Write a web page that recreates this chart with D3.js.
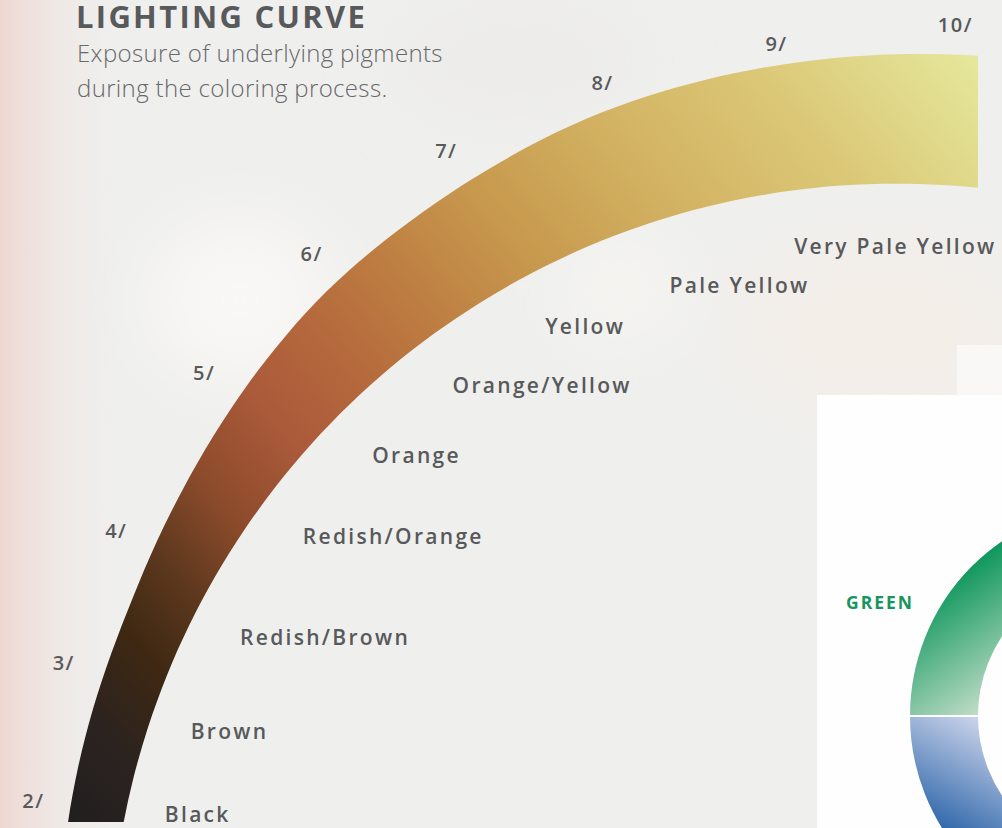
<!DOCTYPE html>
<html>
<head>
<meta charset="utf-8">
<script src="https://cdn.jsdelivr.net/npm/d3@7"></script>
<style>
  body { margin: 0; background: #efefed; overflow: hidden; }
  text { font-family: "Open Sans", sans-serif; }
</style>
</head>
<body>
<div id="container"></div>
<script>
// Chart values.
const levels = [2, 3, 4, 5, 6, 7, 8, 9, 10];
const levelLabels = ["2/", "3/", "4/", "5/", "6/", "7/", "8/", "9/", "10/"];
const pigments = ["Black", "Brown", "Redish/Brown", "Redish/Orange", "Orange",
  "Orange/Yellow", "Yellow", "Pale Yellow", "Very Pale Yellow"];
const wheelSegments = ["Green", "Blue"];

// Declare the chart dimensions.
const width = 1002;
const height = 828;
const deg = Math.PI / 180;

// Centre of the curve (below the screen, under the right end).
const cx = 896;
const cy = 970;
const innerRadius = 787;

// Level -> angle along the curve (0 = straight up, clockwise).
const tickAngle = d3.scaleLinear().domain([2, 4, 5, 6, 8, 10]).range([-78.9, -60.6, -49.2, -39.2, -18.3, 3.6]);
const tickRadius = d3.scaleLinear().domain([2, 4, 5, 7, 9, 10]).range([879, 895, 914, 935, 934, 947]);
const labelAngle = d3.scaleLinear().domain([2, 3, 4, 5, 7, 8, 10]).range([-78.55, -71.9, -63.65, -54.3, -37.55, -28.9, -8.1]);
const labelRadius = d3.scaleLinear().domain([2, 3, 4, 8, 9, 10]).range([746, 742, 732, 726, 714, 723]);

// The band gets thicker toward the light end.
const outerRadius = d3.scaleLinear()
  .domain([-84, -65, -55, -47, -40, -30, -19, -8, 8])
  .range([840, 848, 862, 876, 887, 896, 908, 913, 920]);

const polar = (a, r) => [cx + r * Math.sin(a * deg), cy - r * Math.cos(a * deg)];

const svg = d3.create("svg").attr("width", width).attr("height", height)
  .style("display", "block");
const defs = svg.append("defs");

// Background: blurry photo-like wash.
const bgPink = defs.append("linearGradient").attr("id", "bgPink");
bgPink.append("stop").attr("offset", 0).attr("stop-color", "#eed7d1");
bgPink.append("stop").attr("offset", 0.05).attr("stop-color", "#efdeda").attr("stop-opacity", 0.5);
bgPink.append("stop").attr("offset", 0.13).attr("stop-color", "#efefed").attr("stop-opacity", 0);
defs.append("filter").attr("id", "blur")
  .attr("x", "-50%").attr("y", "-50%").attr("width", "200%").attr("height", "200%")
  .append("feGaussianBlur").attr("stdDeviation", 35);

svg.append("rect").attr("width", width).attr("height", height).attr("fill", "#efefed");
const bokeh = svg.append("g").attr("filter", "url(#blur)");
bokeh.append("ellipse").attr("cx", 240).attr("cy", 300).attr("rx", 90).attr("ry", 80).attr("fill", "#f9f8f5");
bokeh.append("ellipse").attr("cx", 620).attr("cy", 290).attr("rx", 60).attr("ry", 50).attr("fill", "#f6f5f2");
bokeh.append("ellipse").attr("cx", 880).attr("cy", 330).attr("rx", 140).attr("ry", 80).attr("fill", "#f4eee8");
bokeh.append("ellipse").attr("cx", 520).attr("cy", 60).attr("rx", 120).attr("ry", 50).attr("fill", "#ecebe9");
svg.append("rect").attr("width", width).attr("height", height).attr("fill", "url(#bgPink)");

// Band gradient, running from the dark end to the light end.
const bandGrad = defs.append("linearGradient").attr("id", "bandGrad")
  .attr("gradientUnits", "userSpaceOnUse")
  .attr("x1", 69 - cx).attr("y1", 822 - cy)
  .attr("x2", 978 - cx).attr("y2", 55 - cy);
[[0, "#221e1f"], [0.07, "#2b2320"], [0.14, "#3e2812"], [0.2, "#5b371d"],
 [0.27, "#8b4b2b"], [0.35, "#ab5a3a"], [0.42, "#b4673c"], [0.5, "#bd7c41"],
 [0.6, "#c7984d"], [0.72, "#d2b262"], [0.85, "#dbc877"], [1, "#e5e89c"]]
  .forEach(([o, c]) => bandGrad.append("stop").attr("offset", o).attr("stop-color", c));

defs.append("clipPath").attr("id", "bandClip")
  .append("rect").attr("x", 0).attr("y", 0).attr("width", 978).attr("height", 822);

const band = d3.areaRadial()
  .angle(a => a * deg)
  .innerRadius(innerRadius)
  .outerRadius(a => outerRadius(a))
  .curve(d3.curveBasis);

svg.append("g").attr("clip-path", "url(#bandClip)")
  .append("g").attr("transform", `translate(${cx},${cy})`)
  .append("path")
  .attr("d", band(d3.range(-84, 10, 4)))
  .attr("fill", "url(#bandGrad)");

// Title.
svg.append("text").attr("x", 76).attr("y", 28)
  .attr("font-size", 31).attr("font-weight", 700).attr("letter-spacing", 2.3)
  .attr("fill", "#58595b").text("LIGHTING CURVE");
svg.append("text").attr("x", 77).attr("y", 62)
  .attr("font-size", 24).attr("font-weight", 300).attr("letter-spacing", 0.35)
  .attr("fill", "#68696b")
  .text("Exposure of underlying pigments");
svg.append("text").attr("x", 77).attr("y", 97)
  .attr("font-size", 24).attr("font-weight", 300).attr("letter-spacing", 0.35)
  .attr("fill", "#68696b")
  .text("during the coloring process.");

// Level ticks outside the band.
svg.append("g").selectAll("text").data(levels).join("text")
  .attr("x", d => polar(tickAngle(d), tickRadius(d))[0])
  .attr("y", d => polar(tickAngle(d), tickRadius(d))[1])
  .attr("text-anchor", "middle").attr("dominant-baseline", "central")
  .attr("font-size", 20).attr("font-weight", 600).attr("letter-spacing", 1.5)
  .attr("fill", "#58595b")
  .text((d, i) => levelLabels[i]);

// Pigment names inside the band.
svg.append("g").selectAll("text").data(levels).join("text")
  .attr("x", d => polar(labelAngle(d), labelRadius(d))[0])
  .attr("y", d => polar(labelAngle(d), labelRadius(d))[1])
  .attr("font-size", 21).attr("font-weight", 600).attr("letter-spacing", 2.3)
  .attr("fill", "#58595b")
  .text((d, i) => pigments[i]);

// Color wheel panel (bottom right).
svg.append("rect").attr("x", 957).attr("y", 345).attr("width", 45).attr("height", 60).attr("fill", "#f9f8f6");
svg.append("rect").attr("x", 817).attr("y", 395).attr("width", 185).attr("height", 433).attr("fill", "#fefefe");

const wheelX = 1122, wheelY = 716;
const greenGrad = defs.append("linearGradient").attr("id", "greenGrad")
  .attr("gradientUnits", "userSpaceOnUse")
  .attr("x1", 920 - wheelX).attr("y1", 600 - wheelY).attr("x2", 1000 - wheelX).attr("y2", 712 - wheelY);
greenGrad.append("stop").attr("offset", 0).attr("stop-color", "#0f975d");
greenGrad.append("stop").attr("offset", 1).attr("stop-color", "#cfe2d0");
const blueGrad = defs.append("linearGradient").attr("id", "blueGrad")
  .attr("gradientUnits", "userSpaceOnUse")
  .attr("x1", 995 - wheelX).attr("y1", 720 - wheelY).attr("x2", 935 - wheelX).attr("y2", 830 - wheelY);
blueGrad.append("stop").attr("offset", 0).attr("stop-color", "#d3d9ee");
blueGrad.append("stop").attr("offset", 1).attr("stop-color", "#2b64a8");

const wheelArc = d3.arc().innerRadius(143).outerRadius(213);
const wheelSpans = { Green: [-Math.PI / 2, 0], Blue: [Math.PI, 1.5 * Math.PI] };
svg.append("g").attr("transform", `translate(${wheelX},${wheelY})`)
  .selectAll("path").data(wheelSegments).join("path")
  .attr("d", d => wheelArc({ startAngle: wheelSpans[d][0], endAngle: wheelSpans[d][1] }))
  .attr("fill", d => d === "Green" ? "url(#greenGrad)" : "url(#blueGrad)")
  .attr("stroke", "#ffffff").attr("stroke-width", 2);

svg.append("text").attr("x", 846).attr("y", 609)
  .attr("font-size", 17.5).attr("font-weight", 700).attr("letter-spacing", 2)
  .attr("fill", "#17955f").text(wheelSegments[0].toUpperCase());

document.getElementById("container").append(svg.node());
</script>
</body>
</html>
